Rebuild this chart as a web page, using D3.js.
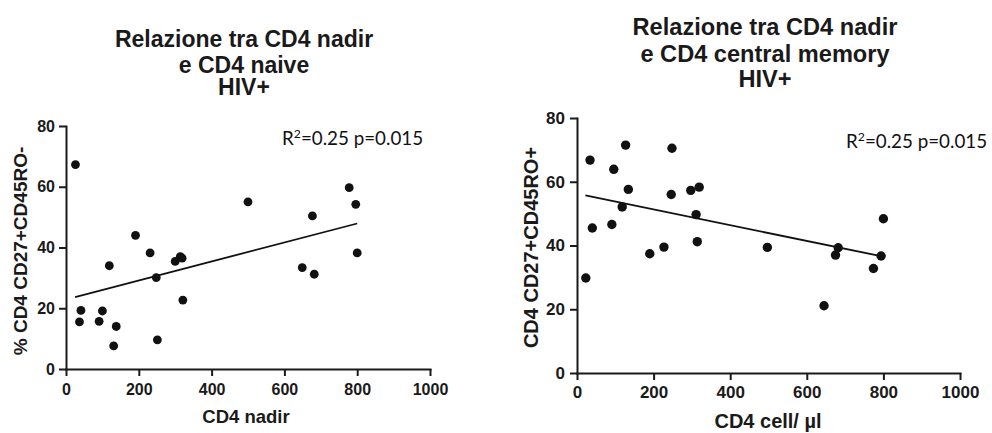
<!DOCTYPE html>
<html>
<head>
<meta charset="utf-8">
<script src="https://cdn.jsdelivr.net/npm/d3@7"></script>
<style>
  body { margin: 0; background: #fff; }
  svg { display: block; }
  .axis path, .axis line { stroke: #1a1a1a; stroke-width: 2; }
  .axis text { font-family: "Liberation Sans", Arial, sans-serif; font-weight: bold; fill: #1a1a1a; }
</style>
</head>
<body>
<svg id="chart" width="992" height="433"></svg>
<script>
// CD4 nadir (x) vs % naive CD4 (left panel)
var naiveX = [26, 37, 41, 91, 100, 119, 131, 138, 191, 231, 248, 251, 300, 314, 319, 321, 500, 649, 677, 682, 778, 796, 800];
var naiveY = [67.3, 15.5, 19.3, 15.7, 19.1, 34, 7.6, 14, 44, 38.2, 30.1, 9.6, 35.4, 37, 36.5, 22.7, 55, 33.4, 50.4, 31.2, 59.7, 54.2, 38.2];
// CD4 nadir (x) vs central memory CD4 (right panel)
var memoryX = [23, 34, 40, 91, 96, 118, 127, 134, 190, 227, 246, 248, 297, 311, 314, 319, 497, 645, 675, 682, 774, 794, 800];
var memoryY = [29.8, 66.8, 45.5, 46.6, 63.9, 52.1, 71.5, 57.6, 37.4, 39.5, 56, 70.5, 57.3, 49.7, 41.2, 58.3, 39.4, 21.1, 37, 39.3, 32.8, 36.7, 48.4];
// regression line end points
var naiveFitX = [25, 800];
var naiveFitY = [23.7, 47.9];
var memoryFitX = [22, 800];
var memoryFitY = [55.7, 36.5];

var xTicks = [0, 200, 400, 600, 800, 1000];
var yTicks = [0, 20, 40, 60, 80];
var statsText = ["R", "2", "=0.25 p=0.015"];

var svg = d3.select("#chart");

function drawPanel(o) {
  var x = d3.scaleLinear().domain([0, 1000]).range([o.left, o.right]);
  var y = d3.scaleLinear().domain([0, 80]).range([o.bottom, o.top]);
  var g = svg.append("g");

  // title
  var title = g.append("text")
    .attr("text-anchor", "middle")
    .attr("font-family", "'Liberation Sans', Arial, sans-serif")
    .attr("font-weight", "bold")
    .attr("font-size", o.titleSize)
    .attr("fill", "#1a1a1a");
  o.title.forEach(function(t, i) {
    title.append("tspan").attr("x", o.titleX).attr("y", o.titleY[i]).text(t);
  });

  // axes
  var xa = g.append("g").attr("class", "axis")
    .attr("transform", "translate(0," + o.bottom + ")")
    .call(d3.axisBottom(x).tickValues(xTicks).tickFormat(d3.format("d"))
      .tickSize(7).tickSizeOuter(0).tickPadding(o.xPad));
  xa.selectAll("text").attr("font-size", o.tickSize);
  var ya = g.append("g").attr("class", "axis")
    .attr("transform", "translate(" + o.left + ",0)")
    .call(d3.axisLeft(y).tickValues(yTicks).tickFormat(d3.format("d"))
      .tickSize(7).tickSizeOuter(0).tickPadding(o.yPad));
  ya.selectAll("text").attr("font-size", o.tickSize);
  g.selectAll(".axis .domain").attr("stroke-linecap", "square");

  // axis titles
  g.append("text")
    .attr("x", o.xTitleX).attr("y", o.xTitleY)
    .attr("text-anchor", "middle")
    .attr("font-family", "'Liberation Sans', Arial, sans-serif")
    .attr("font-weight", "bold")
    .attr("font-size", o.xTitleSize)
    .attr("fill", "#1a1a1a")
    .text(o.xTitle);
  g.append("text")
    .attr("transform", "translate(" + o.yTitleX + "," + o.yTitleY + ") rotate(-90)")
    .attr("text-anchor", "middle")
    .attr("font-family", "'Liberation Sans', Arial, sans-serif")
    .attr("font-weight", "bold")
    .attr("font-size", o.yTitleSize)
    .attr("fill", "#1a1a1a")
    .text(o.yTitle);

  // fit line
  g.append("line")
    .attr("x1", x(o.fitX[0])).attr("y1", y(o.fitY[0]))
    .attr("x2", x(o.fitX[1])).attr("y2", y(o.fitY[1]))
    .attr("stroke", "#111").attr("stroke-width", 1.8);

  // points
  g.selectAll("circle.pt").data(o.xs).enter().append("circle")
    .attr("class", "pt")
    .attr("cx", function(d) { return x(d); })
    .attr("cy", function(d, i) { return y(o.ys[i]); })
    .attr("r", o.r)
    .attr("fill", "#111");

  // stats label
  var st = g.append("text")
    .attr("x", o.statX).attr("y", o.statY)
    .attr("font-family", "Lato, 'Open Sans', sans-serif")
    .attr("font-size", o.statSize)
    .attr("fill", "#111");
  st.append("tspan").text(statsText[0]);
  st.append("tspan").attr("dy", -7).attr("font-size", o.statSize * 0.65).text(statsText[1]);
  st.append("tspan").attr("dy", 7).text(statsText[2]);
}

drawPanel({
  left: 66, right: 430, top: 126, bottom: 369,
  title: ["Relazione tra CD4 nadir", "e CD4 naive", "HIV+"],
  titleX: 244, titleY: [46.5, 72.7, 95], titleSize: 23,
  tickSize: 16, xPad: 8, yPad: 4,
  xTitle: "CD4 nadir", xTitleX: 246, xTitleY: 423, xTitleSize: 18.5,
  yTitle: "% CD4 CD27+CD45RO-", yTitleX: 27, yTitleY: 251, yTitleSize: 19,
  xs: naiveX, ys: naiveY, fitX: naiveFitX, fitY: naiveFitY, r: 4.4,
  statX: 282, statY: 145, statSize: 18.8
});

drawPanel({
  left: 577, right: 960, top: 118, bottom: 373,
  title: ["Relazione tra CD4 nadir", "e CD4 central memory", "HIV+"],
  titleX: 765, titleY: [35, 61.5, 86.7], titleSize: 23.6,
  tickSize: 17, xPad: 6, yPad: 5,
  xTitle: "CD4 cell/ \u00b5l", xTitleX: 768, xTitleY: 428, xTitleSize: 20,
  yTitle: "CD4 CD27+CD45RO+", yTitleX: 538, yTitleY: 247.5, yTitleSize: 20,
  xs: memoryX, ys: memoryY, fitX: memoryFitX, fitY: memoryFitY, r: 4.7,
  statX: 846, statY: 148, statSize: 18.8
});
</script>
</body>
</html>
